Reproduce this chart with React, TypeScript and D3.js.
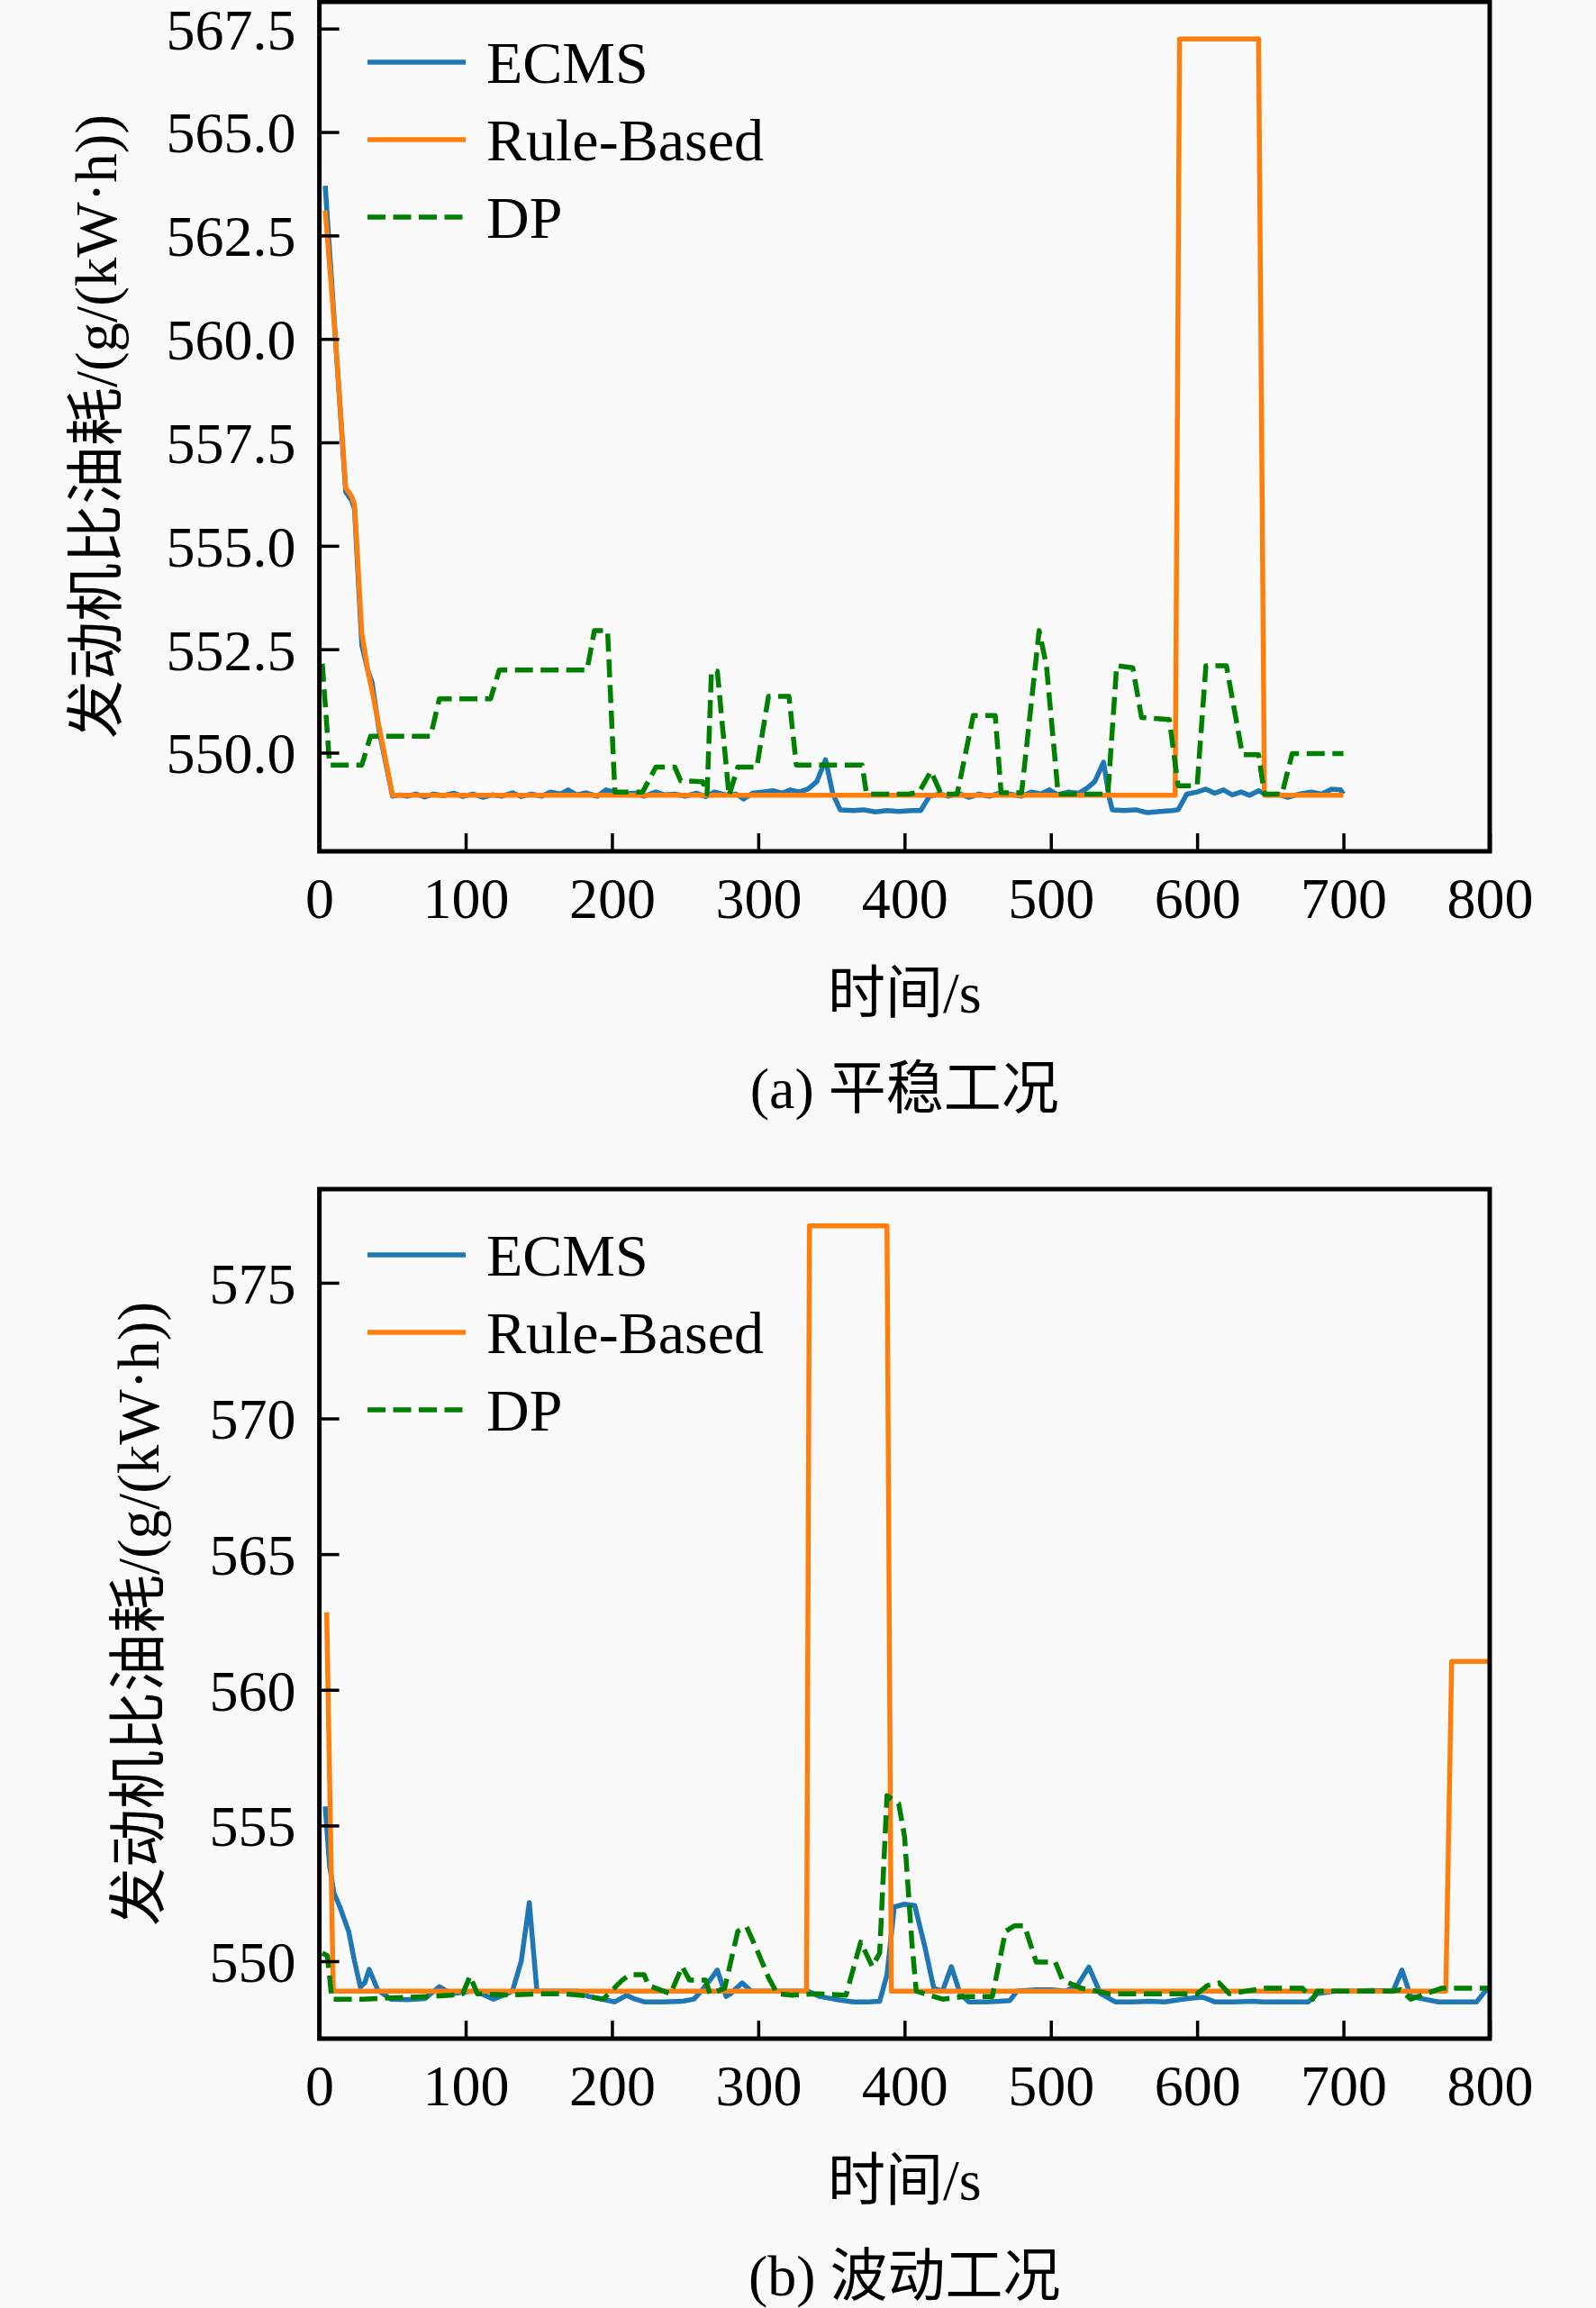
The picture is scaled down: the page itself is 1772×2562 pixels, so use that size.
import { useEffect, useRef } from 'react';
import * as d3 from 'd3';

type Pt = [number, number];

// ---- (a) 平稳工况 ----
const ecmsSteady: Pt[] = [
  [4, 563.7], [11, 560.0], [18, 556.3], [22, 556.1], [24, 555.9], [29, 552.6], [33, 552.0], [36, 551.7],
  [41, 550.5], [50, 548.95], [55, 548.98], [60, 548.95], [66, 549.0], [72, 548.93], [78, 549.0],
  [85, 548.96], [92, 549.02], [98, 548.94], [105, 549.0], [112, 548.92], [118, 548.98], [125, 548.95],
  [132, 549.03], [138, 548.94], [145, 549.0], [152, 548.95], [158, 549.05], [165, 549.0], [170, 549.1],
  [176, 548.98], [182, 549.03], [190, 548.95], [196, 549.1], [202, 549.05], [208, 549.0], [215, 549.02],
  [222, 548.95], [230, 549.05], [236, 548.98], [243, 549.0], [250, 548.95], [258, 549.02], [264, 548.94],
  [270, 549.05], [278, 548.98], [285, 549.0], [290, 548.88], [296, 549.02], [303, 549.05], [310, 549.08],
  [316, 549.02], [322, 549.1], [328, 549.05], [334, 549.12], [340, 549.3], [346, 549.83], [351, 549.0],
  [356, 548.62], [365, 548.6], [372, 548.62], [380, 548.57], [388, 548.6], [396, 548.58], [405, 548.6],
  [411, 548.6], [417, 548.95], [424, 549.0], [430, 548.95], [437, 549.02], [444, 548.92], [451, 549.0],
  [458, 548.95], [465, 549.02], [472, 549.0], [480, 548.95], [487, 549.05], [493, 549.0], [499, 549.1],
  [505, 548.98], [512, 549.05], [519, 549.02], [525, 549.15], [530, 549.3], [536, 549.77], [540, 548.9],
  [542, 548.62], [550, 548.6], [558, 548.62], [566, 548.55], [575, 548.58], [583, 548.6], [587, 548.62],
  [593, 549.0], [600, 549.05], [606, 549.12], [612, 549.02], [618, 549.1], [624, 548.98], [630, 549.05],
  [636, 548.97], [642, 549.08], [648, 548.97], [655, 549.0], [662, 548.92], [670, 549.0], [678, 549.05],
  [685, 549.0], [692, 549.12], [698, 549.1], [700, 549.0]
];

const ruleSteady: Pt[] = [
  [4, 563.1], [11, 560.0], [18, 556.4], [22, 556.2], [24, 556.0], [29, 552.9], [33, 552.0], [36, 551.5],
  [41, 550.6], [50, 548.97], [585, 548.97], [588, 567.25], [642, 567.25], [646, 548.97], [700, 548.97]
];

const dpSteady: Pt[] = [
  [2, 552.15], [7, 549.7], [29, 549.7], [35, 550.4], [76, 550.4], [82, 551.3], [117, 551.3], [123, 552.0],
  [183, 552.0], [188, 552.95], [197, 552.95], [202, 549.05], [221, 549.05], [230, 549.65], [243, 549.65],
  [247, 549.32], [262, 549.3], [265, 549.0], [268, 551.97], [272, 551.97], [280, 548.96], [286, 549.65],
  [299, 549.65], [307, 551.36], [321, 551.36], [326, 549.7], [371, 549.7], [374, 549.0], [403, 549.0],
  [410, 549.05], [418, 549.55], [425, 549.0], [436, 549.0], [447, 550.9], [462, 550.9], [466, 549.03],
  [480, 549.03], [492, 552.95], [497, 552.1], [505, 549.0], [539, 549.0], [545, 552.1], [556, 552.05],
  [562, 550.85], [581, 550.8], [587, 549.2], [600, 549.2], [606, 552.1], [620, 552.1], [631, 549.95],
  [642, 549.95], [646, 549.0], [658, 549.0], [665, 549.98], [700, 549.98]
];

// ---- (b) 波动工况 ----
const ecmsWave: Pt[] = [
  [4, 555.7], [7, 553.5], [10, 552.5], [14, 552.0], [20, 551.1], [24, 550.0], [28, 549.05], [31, 549.2],
  [34, 549.7], [40, 548.93], [49, 548.6], [60, 548.58], [72, 548.62], [82, 549.06], [90, 548.8],
  [98, 548.85], [106, 548.9], [113, 548.75], [119, 548.6], [126, 548.75], [132, 548.9], [138, 550.0],
  [143.5, 552.16], [148.7, 548.9], [160, 548.9], [176, 548.9], [184, 548.7], [193, 548.6], [202, 548.5],
  [210, 548.74], [216, 548.6], [222, 548.5], [235, 548.5], [248, 548.52], [256, 548.6], [261, 548.9],
  [267, 549.3], [272, 549.67], [278, 548.7], [281, 548.8], [285, 549.0], [289, 549.2], [295, 548.9],
  [310, 548.9], [325, 548.9], [334, 548.9], [342, 548.7], [352, 548.6], [365, 548.5], [375, 548.5],
  [383, 548.52], [388, 549.5], [393, 552.0], [400, 552.1], [407, 552.05], [414, 550.5], [420, 549.0],
  [426, 548.9], [432, 549.8], [438, 548.8], [444, 548.5], [455, 548.5], [465, 548.52], [472, 548.55],
  [477, 548.9], [490, 548.95], [500, 548.95], [510, 548.9], [518, 549.1], [526, 549.78], [534, 548.8],
  [544, 548.5], [555, 548.5], [567, 548.52], [578, 548.5], [590, 548.6], [598, 548.65], [604, 548.67],
  [612, 548.5], [625, 548.5], [638, 548.52], [645, 548.5], [660, 548.5], [676, 548.5], [682, 548.8],
  [695, 548.9], [708, 548.9], [720, 548.92], [734, 548.9], [740, 549.67], [746, 548.7], [755, 548.6],
  [765, 548.5], [778, 548.5], [791, 548.5], [797, 548.9], [800, 549.0]
];

const ruleWave: Pt[] = [
  [5, 562.86], [9.5, 548.9], [333, 548.9], [335, 577.1], [388, 577.1], [391, 548.9], [770, 548.9],
  [774, 561.05], [800, 561.05]
];

const dpWave: Pt[] = [
  [2, 550.3], [5.5, 550.2], [8.5, 548.6], [30, 548.6], [50, 548.65], [75, 548.7], [90, 548.75], [98, 548.8],
  [103, 549.45], [108, 548.8], [130, 548.75], [150, 548.8], [165, 548.8], [178, 548.75], [194, 548.6],
  [207, 549.3], [212, 549.5], [222, 549.5], [225, 549.1], [240, 548.8], [248, 549.8], [253, 549.3],
  [264, 549.3], [267, 548.8], [277, 549.0], [286, 551.1], [292, 551.27], [300, 550.3], [307, 549.4],
  [313, 548.8], [323, 548.75], [340, 548.8], [360, 548.75], [370, 550.7], [378, 549.8], [383, 550.3],
  [388, 556.1], [396, 555.8], [400, 554.6], [405, 550.7], [408, 548.9], [426, 548.6], [441, 548.7],
  [460, 548.7], [469, 551.1], [475, 551.3], [482, 551.3], [490, 549.97], [503, 549.97], [508, 549.3],
  [521, 549.0], [540, 548.8], [560, 548.8], [580, 548.8], [600, 548.8], [607, 549.1], [615, 549.2],
  [622, 548.8], [646, 549.0], [672, 549.0], [679, 548.6], [682, 548.9], [700, 548.9], [734, 548.9],
  [739, 548.95], [746, 548.6], [767, 549.0], [800, 549.0]
];

const xTicks = [0, 100, 200, 300, 400, 500, 600, 700, 800];
const yTicksSteady = [550, 552.5, 555, 557.5, 560, 562.5, 565, 567.5];
const yTicksWave = [550, 555, 560, 565, 570, 575];
const seriesNames = ['ECMS', 'Rule-Based', 'DP'];
const seriesColors = ['#1f77b4', '#ff7f0e', '#008000'];

const FONT = '"Liberation Serif", "Times New Roman", "Noto Sans CJK SC", serif';
const LW = 5.5;
const DASH = '20,8.5';

interface PanelProps {
  top: number;
  bottom: number;
  yDomain: [number, number];
  yTicks: number[];
  yFormat: (d: number) => string;
  series: Pt[][];
  legendY: number;
  yLabelX: number;
  caption: string;
}

const LEFT = 354.6;
const RIGHT = 1654;

function drawPanel(g: d3.Selection<SVGGElement, unknown, null, undefined>, p: PanelProps) {
  const x = d3.scaleLinear().domain([0, 800]).range([LEFT, RIGHT]);
  const y = d3.scaleLinear().domain(p.yDomain).range([p.bottom, p.top]);

  const line = d3.line<Pt>().x(d => x(d[0])).y(d => y(d[1]));

  // series, drawn in legend order so DP sits on top
  p.series.forEach((data, i) => {
    g.append('path')
      .datum(data)
      .attr('d', line)
      .attr('fill', 'none')
      .attr('stroke', seriesColors[i])
      .attr('stroke-width', LW)
      .attr('stroke-linejoin', 'round')
      .attr('stroke-dasharray', i === 2 ? DASH : null);
  });

  // ticks point inward
  const xAxis = d3.axisBottom(x).tickValues(xTicks).tickSize(-20).tickPadding(28).tickFormat(d => String(d));
  const xg = g.append('g').attr('transform', `translate(0,${p.bottom})`).call(xAxis);
  const yAxis = d3.axisLeft(y).tickValues(p.yTicks).tickSize(-22).tickPadding(26).tickFormat(d => p.yFormat(Number(d)));
  const yg = g.append('g').attr('transform', `translate(${LEFT},0)`).call(yAxis);

  [xg, yg].forEach(ax => {
    ax.select('.domain').remove();
    ax.selectAll('line').attr('stroke', '#000').attr('stroke-width', 3.5);
    ax.selectAll('text').attr('font-family', FONT).attr('font-size', 64).attr('fill', '#000');
  });
  xg.selectAll('text').attr('dy', '0.72em');
  yg.selectAll('text').attr('dy', '0.35em');

  // frame
  g.append('rect')
    .attr('x', LEFT)
    .attr('y', p.top)
    .attr('width', RIGHT - LEFT)
    .attr('height', p.bottom - p.top)
    .attr('fill', 'none')
    .attr('stroke', '#000')
    .attr('stroke-width', 5);

  // legend
  seriesNames.forEach((name, i) => {
    const ly = p.legendY + i * 86;
    g.append('line')
      .attr('x1', 408).attr('x2', 517)
      .attr('y1', ly).attr('y2', ly)
      .attr('stroke', seriesColors[i])
      .attr('stroke-width', LW)
      .attr('stroke-dasharray', i === 2 ? DASH : null);
    g.append('text')
      .attr('x', 540)
      .attr('y', ly)
      .attr('dy', '0.35em')
      .attr('font-family', FONT)
      .attr('font-size', 66)
      .attr('fill', '#000')
      .text(name);
  });

  // axis labels
  const midX = (LEFT + RIGHT) / 2;
  g.append('text')
    .attr('x', midX)
    .attr('y', p.bottom + 157)
    .attr('dy', '0.35em')
    .attr('text-anchor', 'middle')
    .attr('font-family', FONT)
    .attr('font-size', 64)
    .text('时间/s');

  g.append('text')
    .attr('transform', `translate(${p.yLabelX},${(p.top + p.bottom) / 2}) rotate(-90)`)
    .attr('dy', '0.35em')
    .attr('text-anchor', 'middle')
    .attr('font-family', FONT)
    .attr('font-size', 65)
    .text('发动机比油耗/(g/(kW·h))');

  g.append('text')
    .attr('x', midX)
    .attr('y', p.bottom + 263)
    .attr('dy', '0.35em')
    .attr('text-anchor', 'middle')
    .attr('font-family', FONT)
    .attr('font-size', 64)
    .text(p.caption);
}

export default function App() {
  const svgRef = useRef<SVGSVGElement>(null);

  useEffect(() => {
    if (!svgRef.current) return;
    const svg = d3.select(svgRef.current);
    svg.selectAll('*').remove();

    svg.append('rect').attr('width', 1772).attr('height', 2562).attr('fill', '#fafafa');

    drawPanel(svg.append('g'), {
      top: 2,
      bottom: 945,
      yDomain: [547.616, 568.147],
      yTicks: yTicksSteady,
      yFormat: d => d.toFixed(1),
      series: [ecmsSteady, ruleSteady, dpSteady],
      legendY: 69,
      yLabelX: 106,
      caption: '(a) 平稳工况'
    });

    drawPanel(svg.append('g'), {
      top: 1320,
      bottom: 2263,
      yDomain: [547.145, 578.45],
      yTicks: yTicksWave,
      yFormat: d => d.toFixed(0),
      series: [ecmsWave, ruleWave, dpWave],
      legendY: 1393,
      yLabelX: 153,
      caption: '(b) 波动工况'
    });
  }, []);

  return (
    <svg
      ref={svgRef}
      width={1772}
      height={2562}
      style={{ position: 'absolute', left: 0, top: 0, display: 'block' }}
    />
  );
}
